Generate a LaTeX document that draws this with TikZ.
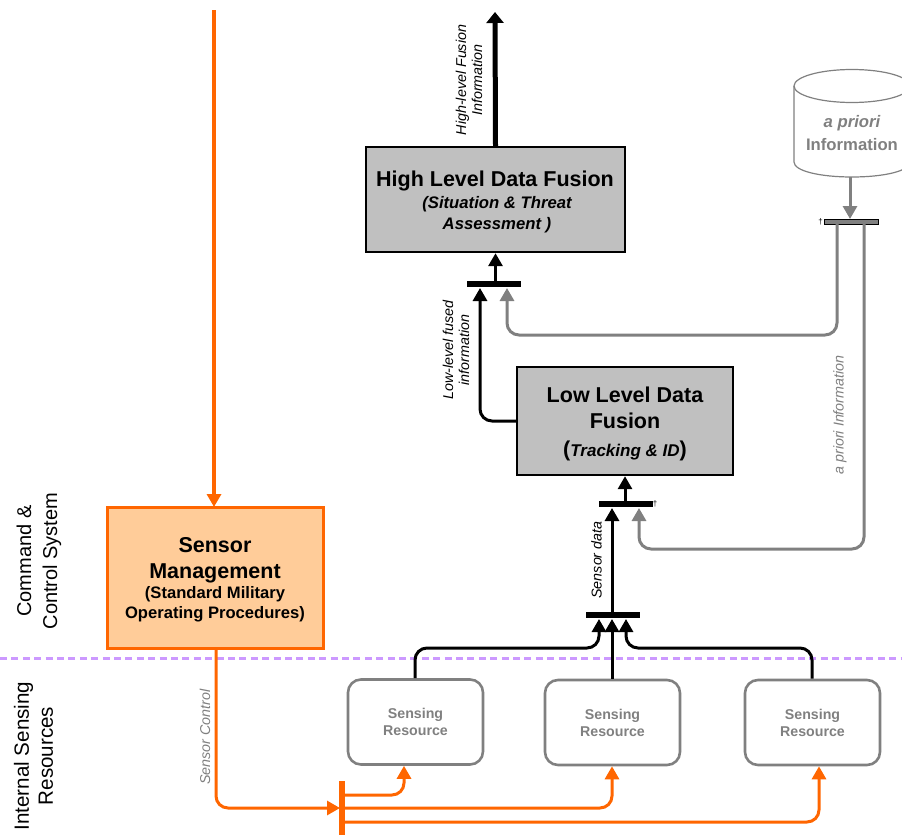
\documentclass[tikz,border=0pt]{standalone}
\usepackage{fontspec}
\setmainfont{Liberation Sans}
\usepackage{tikz}
\usepackage{color}
\usetikzlibrary{arrows.meta}
\definecolor{sensororange}{HTML}{FF6600}
\definecolor{sensorfill}{HTML}{FFCC99}
\definecolor{boundary}{HTML}{CC99FF}
\definecolor{apriorigray}{HTML}{808080}
\definecolor{boxgray}{HTML}{C0C0C0}
\tikzset{
  tip/.style={-{Triangle[length=13pt,width=14pt]}},
  blackline/.style={draw=black,line width=3pt,rounded corners=12pt},
  grayline/.style={draw=apriorigray,line width=3pt,rounded corners=12pt},
  orangeline/.style={draw=sensororange,line width=3pt,rounded corners=12pt},
  fusionbox/.style={draw=black,line width=2.4pt,fill=boxgray,inner sep=0pt,align=center},
  resourcebox/.style={draw=apriorigray,line width=2.6pt,rounded corners=13pt,minimum width=135pt,minimum height=85pt,align=center,text=apriorigray,font=\fontsize{14.2}{17}\selectfont\bfseries},
  blackbar/.style={fill=black,inner sep=0pt,minimum width=54pt,minimum height=6pt},
  sidelabel/.style={rotate=90,align=center},
  flowlabel/.style={rotate=90,align=center,font=\fontsize{14.3}{16}\selectfont\itshape},
  tinymark/.style={inner sep=0pt,font=\fontsize{8}{8}\selectfont}
}
\begin{document}
\begin{tikzpicture}[x=1pt,y=-1pt]
\clip (0,0) rectangle (902,835);
% boundary between the two systems
\coordinate (boundaryleft) at (0,658);
\coordinate (boundaryright) at (902,658);
\draw[boundary,line width=3pt,dash pattern=on 7pt off 4.4pt] (boundaryleft)--(boundaryright);
% side labels
\node[sidelabel,font=\fontsize{20}{26}\selectfont] (commandlabel) at (39,561) {Command \&\\Control System};
\node[sidelabel,font=\fontsize{20.6}{24}\selectfont] (internallabel) at (33.5,756) {Internal Sensing\\Resources};
% fusion boxes
\node[fusionbox,minimum width=259pt,minimum height=105pt] (highbox) at (495.5,199.5) {};
\node (hightitle) at (495,180.5) {\fontsize{21.5}{24}\selectfont\bfseries High Level Data Fusion};
\node[align=center,font=\fontsize{16.7}{21}\selectfont\bfseries\itshape] (highsub) at (497,214.5) {(Situation \& Threat\\Assessment )};
\node[fusionbox,minimum width=216pt,minimum height=108pt] (lowbox) at (625,421) {};
\node[align=center,font=\fontsize{21.5}{26}\selectfont\bfseries] (lowtitle) at (625,408) {Low Level Data\\Fusion};
\node[font=\fontsize{21.5}{24}\selectfont\bfseries] (lowsub) at (625,451) {({\fontsize{17}{20}\selectfont\itshape Tracking \& ID})};
% sensor management
\node[draw=sensororange,line width=3pt,fill=sensorfill,minimum width=216pt,minimum height=141pt,inner sep=0pt] (sensorbox) at (215.5,577.5) {};
\node[align=center,font=\fontsize{21.5}{26}\selectfont\bfseries] (sensortitle) at (215,560.5) {Sensor\\Management};
\node[align=center,font=\fontsize{16.6}{20}\selectfont\bfseries] (sensorsub) at (215,604) {(Standard Military\\Operating Procedures)};
% sensing resources
\node[resourcebox] (resourcea) at (415.5,722) {Sensing\\Resource};
\node[resourcebox] (resourceb) at (612.5,722.5) {Sensing\\Resource};
\node[resourcebox] (resourcec) at (812.5,722.5) {Sensing\\Resource};
% a priori store
\draw[apriorigray,line width=1.2pt] (852,86) ellipse [x radius=58,y radius=16.5];
\draw[apriorigray,line width=1.2pt] (794,86)--(794,162) .. controls (794,171) and (820,177) .. (852,177) .. controls (884,177) and (910,171) .. (910,162)--(910,86);
\node[text=apriorigray,font=\fontsize{16.7}{20}\selectfont\bfseries\itshape] (apriorione) at (852,123) {a priori};
\node[text=apriorigray,font=\fontsize{16.7}{20}\selectfont\bfseries] (aprioritwo) at (852,145) {Information};
\coordinate (storebottom) at (850,177);
% bars
\node[blackbar] (highbar) at (494,284) {};
\node[blackbar] (lowbar) at (626,504) {};
\node[blackbar] (databar) at (613,615) {};
\node[draw=black,line width=0.7pt,fill=apriorigray,minimum width=54pt,minimum height=5pt,inner sep=0pt] (graybar) at (851,221.5) {};
\node[fill=sensororange,minimum width=6pt,minimum height=60pt,inner sep=0pt] (orangebar) at (342,811) {};
\node[tinymark] (graymark) at (820.5,222) {†};
\node[tinymark] (lowmark) at (655,504) {†};
% top arrow
\coordinate (topend) at (495,12);
\draw[black,line width=5pt,-{Triangle[length=11pt,width=17pt]}] (highbox.north)--(topend);
% black arrows
\draw[blackline,tip] (highbar.north-|highbox.south)--(highbox.south);
\draw[blackline,tip] (lowbar.north-|lowbox.south)--(lowbox.south);
\coordinate (highbarleft) at (480,288);
\draw[blackline,tip] (lowbox.west)-|(highbarleft);
\coordinate (lowbarin) at (612,508);
\coordinate (databartop) at (612,612);
\draw[blackline,tip] (databartop)--(lowbarin);
\coordinate (databarleft) at (599,619);
\coordinate (databarmid) at (612,619);
\coordinate (databarright) at (626,619);
\coordinate (lefttop) at (415,648);
\coordinate (righttop) at (812,648);
\draw[blackline,tip] (resourcea.north-|lefttop)--(lefttop)--(lefttop-|databarleft)--(databarleft);
\draw[blackline,tip] (resourceb.north-|databarmid)--(databarmid);
\draw[blackline,tip] (resourcec.north-|righttop)--(righttop)--(righttop-|databarright)--(databarright);
% a priori arrows
\coordinate (grayin) at (850,219);
\coordinate (graydowna) at (837,224);
\coordinate (graycornera) at (837,335);
\coordinate (highbarright) at (507,288);
\coordinate (graydownb) at (864,224);
\coordinate (graycornerb) at (864,549);
\coordinate (lowbarright) at (639,508);
\draw[grayline,tip] (storebottom)--(grayin);
\draw[grayline,tip] (graydowna)--(graycornera)--(graycornera-|highbarright)--(highbarright);
\draw[grayline,tip] (graydownb)--(graycornerb)--(graycornerb-|lowbarright)--(lowbarright);
% sensor control arrows
\coordinate (commandtop) at (214,10);
\coordinate (sensortop) at (214,507);
\draw[orangeline,line width=4.4pt,tip] (commandtop)--(sensortop);
\coordinate (controlstart) at (216,648);
\coordinate (controlcorner) at (216,808);
\coordinate (controlend) at (340,808);
\draw[orangeline,tip] (controlstart)--(controlcorner)--(controlend);
\coordinate (feedacorner) at (404,795);
\coordinate (feedastart) at (345,795);
\coordinate (feedbstart) at (345,808);
\coordinate (feedbcorner) at (612,808);
\coordinate (feedcstart) at (345,822);
\coordinate (feedccorner) at (819,822);
\draw[orangeline,tip] (feedastart)--(feedacorner)--(feedacorner|-resourcea.south);
\draw[orangeline,tip] (feedbstart)--(feedbcorner)--(feedbcorner|-resourceb.south);
\draw[orangeline,tip] (feedcstart)--(feedccorner)--(feedccorner|-resourcec.south);
% connector labels
\node[flowlabel] (fusionlabel) at (469,80) {High-level Fusion\\Information};
\node[flowlabel] (fusedlabel) at (456,350) {Low-level fused\\information};
\node[flowlabel] (datalabel) at (596.5,560) {Sensor data};
\node[flowlabel,text=apriorigray] (apriorilabel) at (840,415) {a priori Information};
\node[flowlabel,text=apriorigray] (controllabel) at (205,737) {Sensor Control};
\end{tikzpicture}
\end{document}
